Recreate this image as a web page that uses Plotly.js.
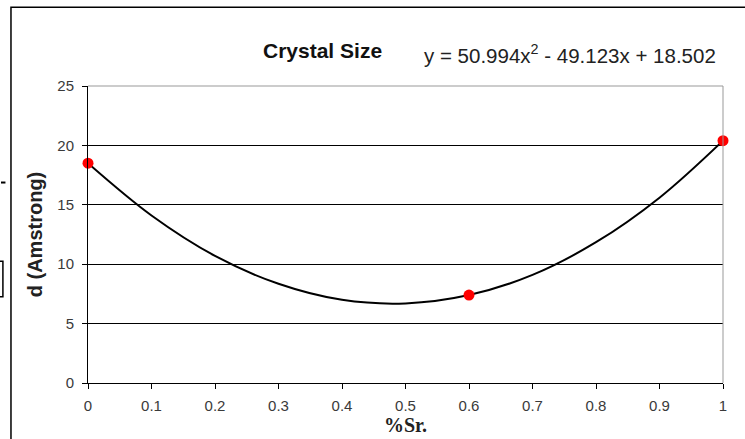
<!DOCTYPE html>
<html>
<head>
<meta charset="utf-8">
<script src="https://cdn.plot.ly/plotly-3.0.1.min.js"></script>
<style>html,body{margin:0;padding:0;background:#fff;}#chart{width:745px;height:439px;}</style>
</head>
<body>
<div id="chart"></div>
<script>
// Measured data points
const sr = [0, 0.6, 1];
const size = [18.5, 7.4, 20.4];
// Trendline at each 0.1 step
const trendX = [0, 0.1, 0.2, 0.3, 0.4, 0.5, 0.6, 0.7, 0.8, 0.9, 1];
const trendY = [18.5, 14.1, 10.7, 8.35, 7.0, 6.7, 7.4, 9.1, 11.85, 15.6, 20.4];
const xTicks = [0, 0.1, 0.2, 0.3, 0.4, 0.5, 0.6, 0.7, 0.8, 0.9, 1];
const yTicks = [0, 5, 10, 15, 20, 25];
const titleText = "Crystal Size";
const equationText = "y = 50.994x<sup>2</sup> - 49.123x + 18.502";

const traces = [
  {x: trendX, y: trendY, type: 'scatter', mode: 'lines',
   line: {color: '#000', width: 2, shape: 'spline', smoothing: 1}, hoverinfo: 'skip'},
  {x: sr, y: size, type: 'scatter', mode: 'markers',
   marker: {color: '#ff0000', size: 11}, cliponaxis: false}
];

const layout = {
  width: 745, height: 439,
  margin: {l: 88, r: 22, t: 86, b: 56},
  paper_bgcolor: '#fff', plot_bgcolor: '#fff',
  showlegend: false,
  font: {family: 'Arial, Liberation Sans, sans-serif', color: '#222', size: 12},
  xaxis: {
    range: [0, 1], tickvals: xTicks, ticktext: xTicks.map(String),
    showgrid: false, zeroline: false,
    showline: true, linecolor: '#000', linewidth: 1,
    ticks: 'outside', ticklen: 5, tickcolor: '#000', tickwidth: 1,
    ticklabelstandoff: 4,
    tickfont: {size: 15, color: '#3a3a3a'},
    title: {text: '%Sr.', font: {family: 'Liberation Serif, serif', size: 20, color: '#222', weight: 'bold'}, standoff: 0}
  },
  yaxis: {
    range: [0, 25], tickvals: yTicks, ticktext: yTicks.map(String),
    showgrid: true, gridcolor: '#000', gridwidth: 1, zeroline: false,
    showline: true, linecolor: '#000', linewidth: 1,
    ticks: 'outside', ticklen: 5, tickcolor: '#000', tickwidth: 1,
    ticklabelstandoff: 5,
    tickfont: {size: 15, color: '#3a3a3a'},
    title: {text: 'd (Amstrong)', font: {size: 20, color: '#222', weight: 'bold'}, standoff: 9}
  },
  annotations: [
    {text: '<b>' + titleText + '</b>', xref: 'paper', yref: 'paper', x: 0.369, y: 1.0, yshift: 36,
     xanchor: 'center', yanchor: 'middle', showarrow: false, font: {size: 21, color: '#111'}},
    {text: equationText, xref: 'paper', yref: 'paper', x: 0.992, y: 1.0, yshift: 32,
     xanchor: 'right', yanchor: 'middle', showarrow: false, font: {size: 20.5, color: '#222'}}
  ],
  shapes: [
    {type: 'rect', xref: 'paper', yref: 'paper', x0: -0.1213, x1: 1.1, y0: -0.3, y1: 1.2654,
     line: {color: '#000', width: 1.5}, fillcolor: 'rgba(0,0,0,0)', layer: 'below'},
    {type: 'line', xref: 'paper', yref: 'paper', x0: 0, x1: 1, y0: 1, y1: 1, line: {color: '#999', width: 1}},
    {type: 'line', xref: 'paper', yref: 'paper', x0: 1, x1: 1, y0: 0, y1: 1, line: {color: '#999', width: 1}},
    {type: 'rect', xref: 'paper', yref: 'paper', x0: -0.14, x1: -0.134, y0: 0.29, y1: 0.41,
     line: {color: '#000', width: 1.5}, fillcolor: 'rgba(0,0,0,0)'},
    {type: 'line', xref: 'paper', yref: 'paper', x0: -0.137, x1: -0.130, y0: 0.675, y1: 0.675,
     line: {color: '#000', width: 2}}
  ]
};

Plotly.newPlot('chart', traces, layout, {displayModeBar: false, staticPlot: true});
</script>
</body>
</html>
